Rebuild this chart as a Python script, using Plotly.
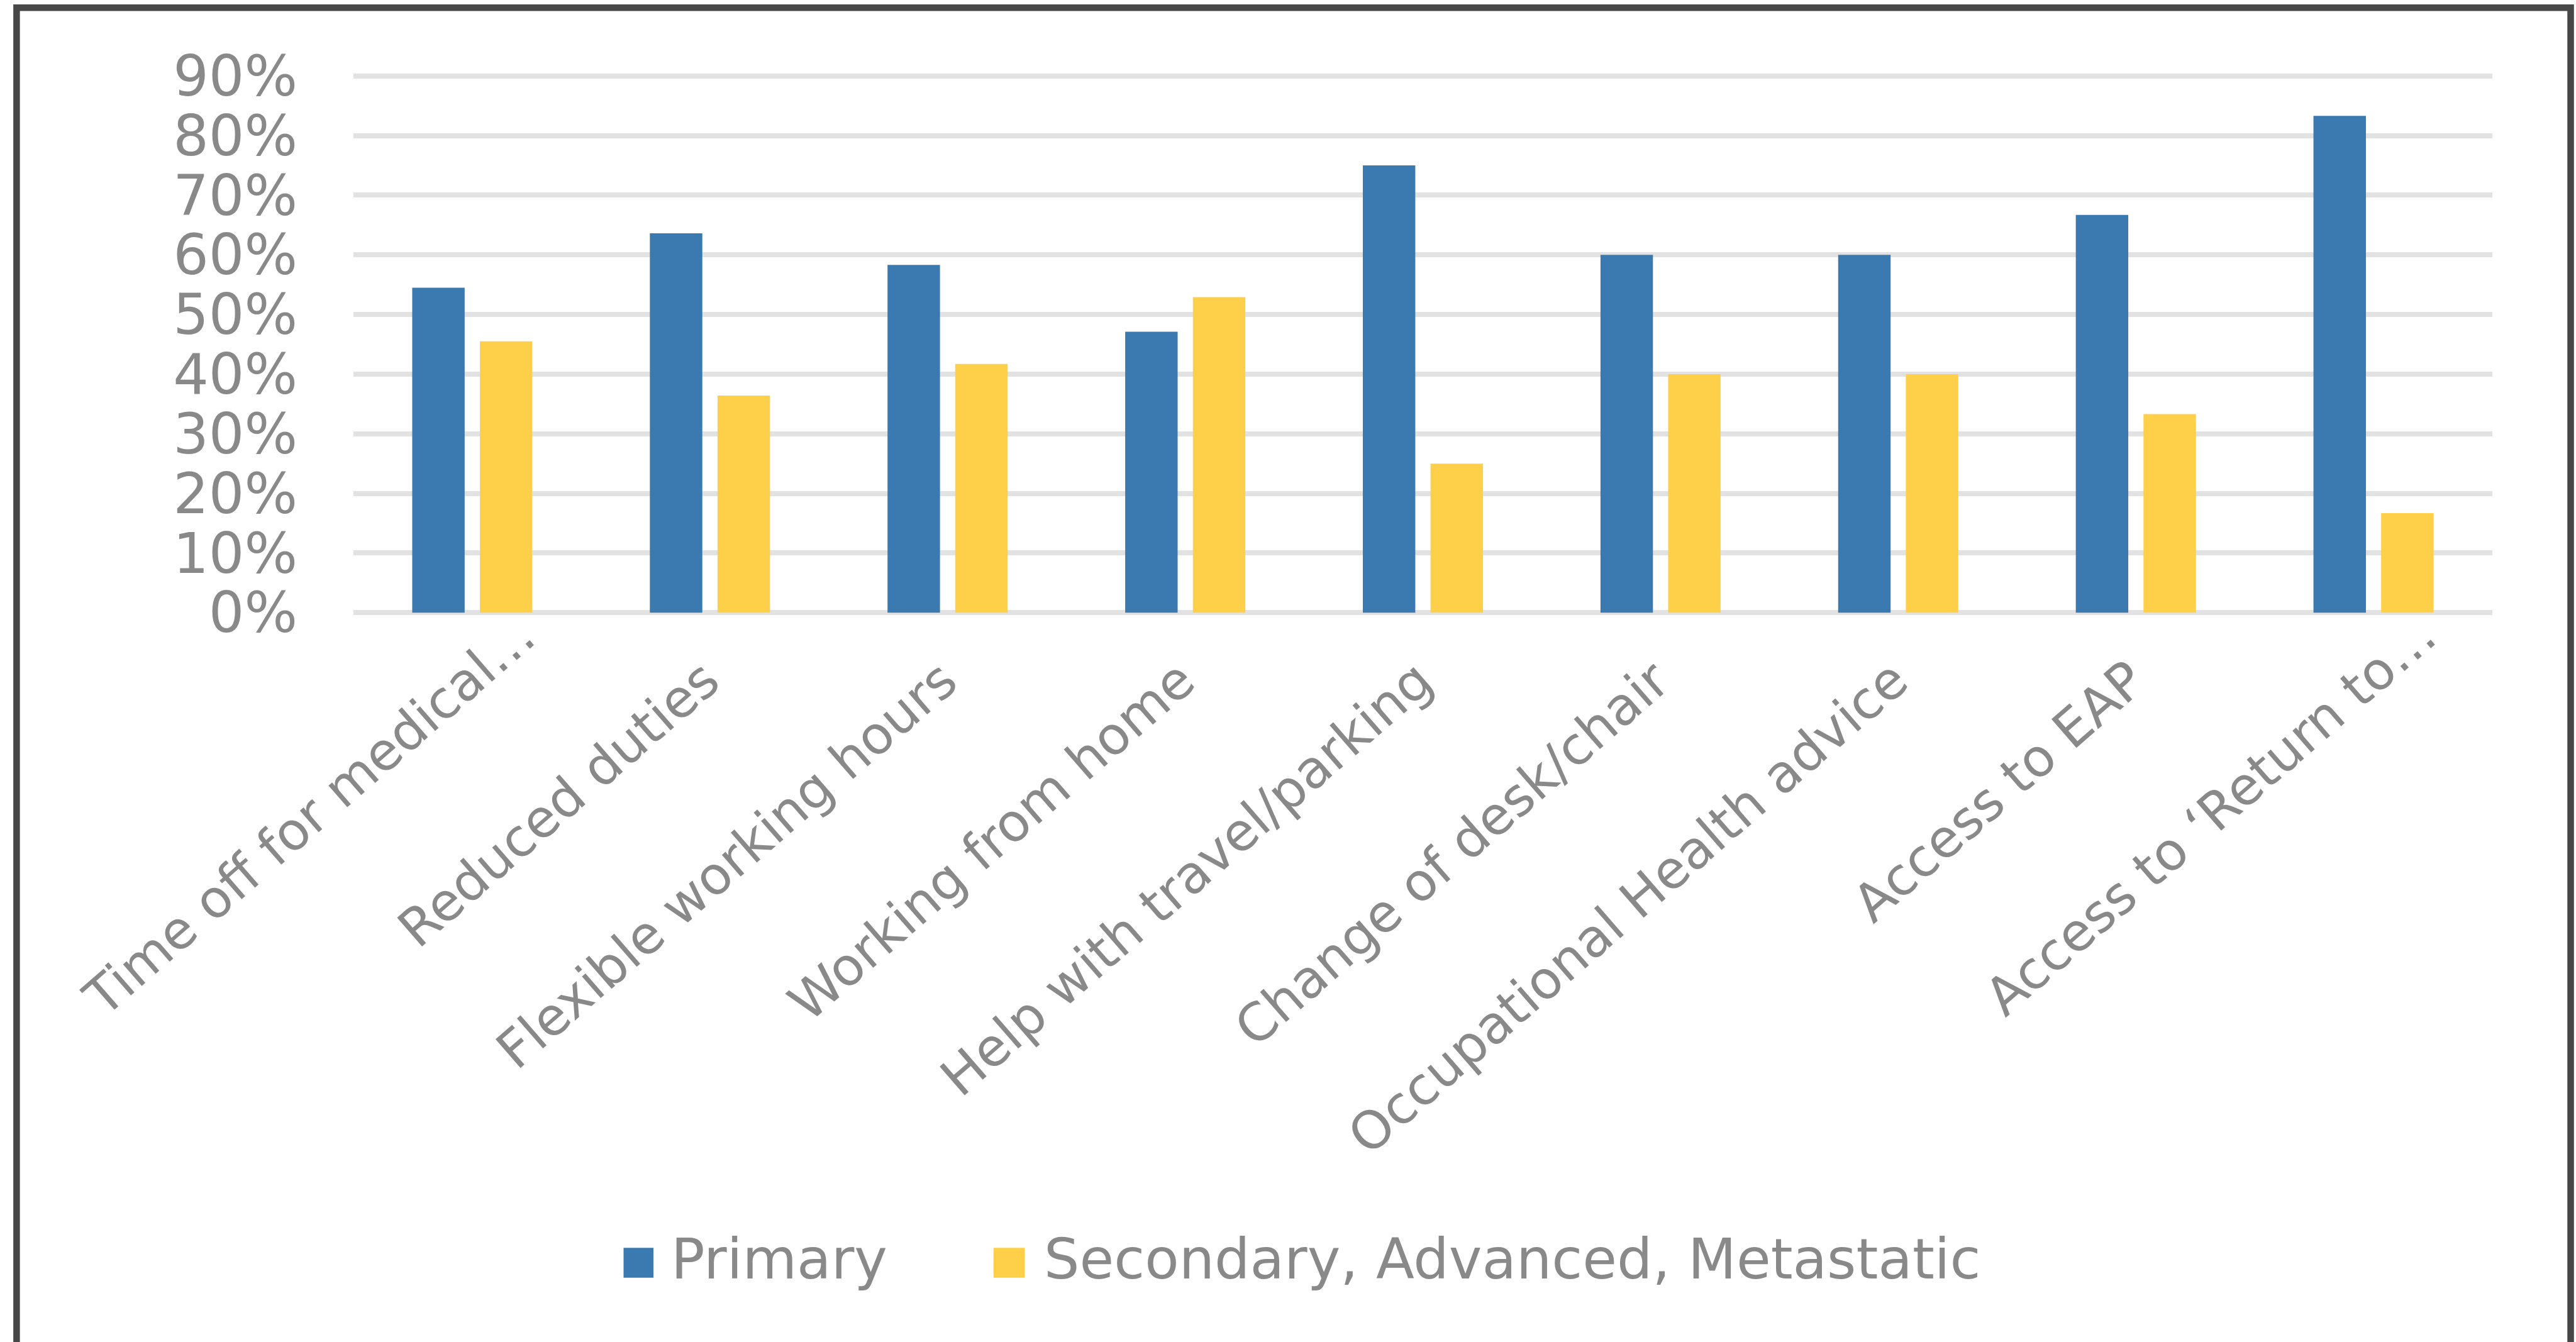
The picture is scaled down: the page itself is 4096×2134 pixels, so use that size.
import plotly.graph_objects as go

# ---------------- data ----------------
categories = [
    "Time off for medical…",
    "Reduced duties",
    "Flexible working hours",
    "Working from home",
    "Help with travel/parking",
    "Change of desk/chair",
    "Occupational Health advice",
    "Access to EAP",
    "Access to ‘Return to…",
]
primary = [0.545, 0.636, 0.583, 0.471, 0.75, 0.60, 0.60, 0.667, 0.833]
secondary = [0.455, 0.364, 0.417, 0.529, 0.25, 0.40, 0.40, 0.333, 0.167]
series_names = ["Primary", "Secondary, Advanced, Metastatic"]
y_ticks = [0, 0.1, 0.2, 0.3, 0.4, 0.5, 0.6, 0.7, 0.8, 0.9]

# ---------------- style ----------------
W, H = 4096, 2134
FONT = "DejaVu Sans"
TXT = "#898989"
BLUE = "#3A7AB0"
YELLOW = "#FED04A"
GRID = "#E2E2E2"
BORDER = "#474747"
FS = 89
FS_CAT = 83

L, R = 562.3, 3963.3
Y_MIN, Y_MAX = -0.005, 0.905
Y0_PX, Y90_PX = 974.6, 121.1
ppu = (Y0_PX - Y90_PX) / 0.9
TOP = Y90_PX - (Y_MAX - 0.9) * ppu
BOT = Y0_PX - Y_MIN * ppu
PW, PH = R - L, BOT - TOP


def px(x):
    return (x - L) / PW


def py(y):
    return (BOT - y) / PH


fig = go.Figure()
fig.add_trace(go.Bar(x=categories, y=primary, name=series_names[0],
                     marker=dict(color=BLUE, line=dict(width=0)), showlegend=False))
fig.add_trace(go.Bar(x=categories, y=secondary, name=series_names[1],
                     marker=dict(color=YELLOW, line=dict(width=0)), showlegend=False))

fig.update_layout(
    template="none",
    width=W, height=H,
    margin=dict(l=L, r=W - R, t=TOP, b=H - BOT, pad=0),
    paper_bgcolor="white", plot_bgcolor="white",
    barmode="group", bargap=0.4305, bargroupgap=0.225,
    font=dict(family=FONT, size=FS, color=TXT),
    showlegend=False,
)
fig.update_xaxes(type="category", range=[-0.5, len(categories) - 0.5],
                 showticklabels=False, showgrid=False, showline=False,
                 zeroline=False, ticks="", automargin=False)
fig.update_yaxes(range=[Y_MIN, Y_MAX], tickvals=y_ticks, tickformat=".0%",
                 showgrid=True, gridcolor=GRID, gridwidth=8.2,
                 zeroline=True, zerolinecolor=GRID, zerolinewidth=8.2,
                 showline=False, ticks="", ticklabelstandoff=88,
                 tickfont=dict(family=FONT, size=FS, color=TXT), automargin=False)

# category labels (rotated), anchored at the end of the text
LABEL_TOP_PX = Y0_PX + 55
for cat in categories:
    trunc = cat.endswith("…")
    fig.add_annotation(
        x=cat, xref="x", y=py(LABEL_TOP_PX), yref="paper",
        text=cat, textangle=-41, showarrow=False,
        xanchor="right", yanchor="top",
        xshift=36 + (85 if trunc else 0), yshift=(71 if trunc else 0),
        font=dict(family=FONT, size=FS_CAT, color=TXT),
    )

# legend drawn manually (large square keys)
legend_items = [
    (series_names[0], BLUE, 991.8, 1039.3, 1065.5),
    (series_names[1], YELLOW, 1580.0, 1629.7, 1657.8),
]
for name, col, x0, x1, tx in legend_items:
    fig.add_shape(type="rect", xref="paper", yref="paper",
                  x0=px(x0), x1=px(x1), y0=py(2032.1), y1=py(1984.5),
                  fillcolor=col, line=dict(width=0))
    fig.add_annotation(x=px(tx), y=py(2002.5), xref="paper", yref="paper",
                       text=name, showarrow=False, xanchor="left", yanchor="middle",
                       font=dict(family=FONT, size=FS, color=TXT))

# outer frame (left, top, right; bottom runs off the image)
bx0, bx1, by_top, by_bot = 26.7, 4087.8, 12.6, 2200
path = (f"M {px(bx0)},{py(by_bot)} L {px(bx0)},{py(by_top)} "
        f"L {px(bx1)},{py(by_top)} L {px(bx1)},{py(by_bot)}")
fig.add_shape(type="path", xref="paper", yref="paper", path=path,
              line=dict(color=BORDER, width=10.5), fillcolor="rgba(0,0,0,0)")

fig.write_html("out.html")
